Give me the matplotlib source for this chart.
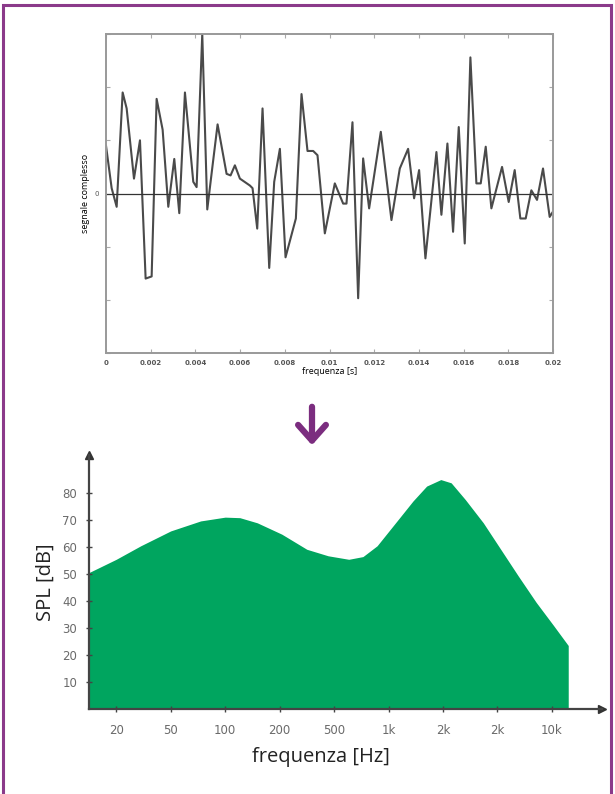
import numpy as np
import matplotlib.pyplot as plt
from matplotlib.patches import Rectangle, FancyArrowPatch

# segnale complesso (tempo in ms, ampiezza)
t_ms = [0, 0.253, 0.477, 0.745, 0.924, 1.252, 1.52, 1.773, 2.042, 2.265, 2.534,
        2.787, 3.055, 3.279, 3.532, 3.905, 4.054, 4.307, 4.531, 4.769, 4.993,
        5.395, 5.574, 5.767, 5.991, 6.438, 6.557, 6.766, 7.004, 7.303, 7.526,
        7.78, 8.033, 8.495, 8.748, 9.016, 9.27, 9.463, 9.791, 10.238, 10.611,
        10.76, 11.028, 11.282, 11.505, 11.773, 12.295, 12.772, 13.145, 13.517,
        13.785, 14.009, 14.292, 14.784, 15.007, 15.276, 15.529, 15.783, 16.051,
        16.304, 16.572, 16.766, 16.99, 17.243, 17.72, 18.018, 18.286, 18.539,
        18.778, 19.031, 19.285, 19.553, 19.851, 20.0]
segnale = [0.9, 0.1, -0.25, 1.9, 1.6, 0.28, 1.0, -1.6, -1.56, 1.78, 1.2,
           -0.25, 0.65, -0.37, 1.9, 0.22, 0.12, 3.0, -0.3, 0.53, 1.3,
           0.37, 0.34, 0.53, 0.28, 0.15, 0.1, -0.66, 1.6, -1.4, 0.22,
           0.84, -1.2, -0.47, 1.87, 0.8, 0.8, 0.72, -0.75, 0.19, -0.19,
           -0.19, 1.34, -1.97, 0.66, -0.28, 1.16, -0.5, 0.47, 0.84,
           -0.09, 0.44, -1.22, 0.78, -0.4, 0.94, -0.72, 1.25, -0.94,
           2.56, 0.19, 0.19, 0.88, -0.28, 0.5, -0.16, 0.44, -0.47,
           -0.47, 0.06, -0.12, 0.47, -0.44, -0.34]

# spettro (posizione sulla scala delle bande, SPL)
bande = ['20', '50', '100', '200', '500', '1k', '2k', '2k', '10k']
pos = [-0.5, 0, 0.45, 1.0, 1.55, 2.0, 2.27, 2.59, 3.04, 3.5, 3.89, 4.27, 4.53,
       4.79, 5.18, 5.45, 5.70, 5.96, 6.15, 6.41, 6.74, 7.06, 7.38, 7.71, 8.03,
       8.3, 8.3]
spl = [50.5, 55.4, 60.4, 65.9, 69.6, 71.0, 70.8, 68.9, 64.7, 59.1, 56.7, 55.4,
       56.4, 60.4, 70.2, 77.0, 82.5, 84.9, 83.7, 77.5, 68.9, 59.1, 49.3, 39.5,
       30.9, 23.5, 0]
spl_ticks = [10, 20, 30, 40, 50, 60, 70, 80]

purple = '#8b3a8a'
green = '#00a55f'

fig = plt.figure(figsize=(6.15, 7.94), dpi=100)

# cornice
fig.patches.append(Rectangle((3 / 615, -0.05), 608 / 615, 1 - 5 / 794 + 0.05,
                             transform=fig.transFigure, fill=False,
                             edgecolor=purple, lw=2.2))

# --- grafico superiore ---
ax1 = fig.add_axes([106 / 615, 1 - 353 / 794, 447 / 615, 319 / 794])
ax1.plot(np.array(t_ms) / 1000, segnale, color='#4a4a4a', lw=1.5)
ax1.axhline(0, color='#333333', lw=0.9)
ax1.set_xlim(0, 0.02)
ax1.set_ylim(-3, 3)
ax1.set_xticks(np.arange(0, 0.0201, 0.002))
ax1.set_xticklabels(['0', '0.002', '0.004', '0.006', '0.008', '0.01', '0.012',
                     '0.014', '0.016', '0.018', '0.02'])
ax1.set_yticks(range(-3, 4))
ax1.set_yticklabels(['', '', '', '0', '', '', ''])
ax1.tick_params(direction='in', top=True, right=True, length=3, color='#aaaaaa',
                labelsize=5, labelcolor='#555555', pad=5)
for lab in ax1.get_xticklabels():
    lab.set_fontweight('bold')
for s in ax1.spines.values():
    s.set_color('#999999')
    s.set_linewidth(1.4)
ax1.set_xlabel('frequenza [s]', fontsize=6.5, labelpad=1, family='Open Sans')
ax1.set_ylabel('segnale complesso', fontsize=6.5, labelpad=3, family='Open Sans',
               bbox=dict(facecolor='white', edgecolor='none', pad=1))

# freccia
fig.patches.append(FancyArrowPatch((312 / 615, 1 - 404 / 794), (312 / 615, 1 - 448 / 794),
                                   transform=fig.transFigure, color='#7b2d7f',
                                   arrowstyle='->,head_length=4.5,head_width=4',
                                   lw=4.5, mutation_scale=2.5))

# --- grafico inferiore ---
ax2 = fig.add_axes([89 / 615, 1 - 709 / 794, 513 / 615, 254 / 794])
ax2.fill_between(pos, spl, 0, color=green, lw=0)
ax2.set_xlim(-0.5, 8.92)
ax2.set_ylim(0, 94)
ax2.set_xticks(range(len(bande)))
ax2.set_xticklabels(bande)
ax2.set_yticks(spl_ticks)
ax2.tick_params(direction='inout', length=5, color='#444444', labelsize=8.5,
                labelcolor='#6a6a6a', width=1)
ax2.tick_params(axis='x', pad=8)
ax2.tick_params(axis='y', pad=6)
ax2.spines['top'].set_visible(False)
ax2.spines['right'].set_visible(False)
ax2.spines['left'].set_color('#444444')
ax2.spines['bottom'].set_color('#444444')
ax2.spines['left'].set_linewidth(1.6)
ax2.spines['bottom'].set_linewidth(1.6)
ax2.plot(1, 0, '>', color='#333333', ms=6, transform=ax2.transAxes, clip_on=False)
ax2.plot(0, 1, '^', color='#333333', ms=6, transform=ax2.transAxes, clip_on=False)
ax2.set_ylabel('SPL [dB]', fontsize=14.5, family='Open Sans', color='#222222',
               labelpad=5)
fig.text(321 / 615, 1 - 757 / 794, 'frequenza [Hz]', fontsize=14.5,
         family='Open Sans', color='#222222', ha='center', va='center')

fig.savefig('out.png', dpi=100)
